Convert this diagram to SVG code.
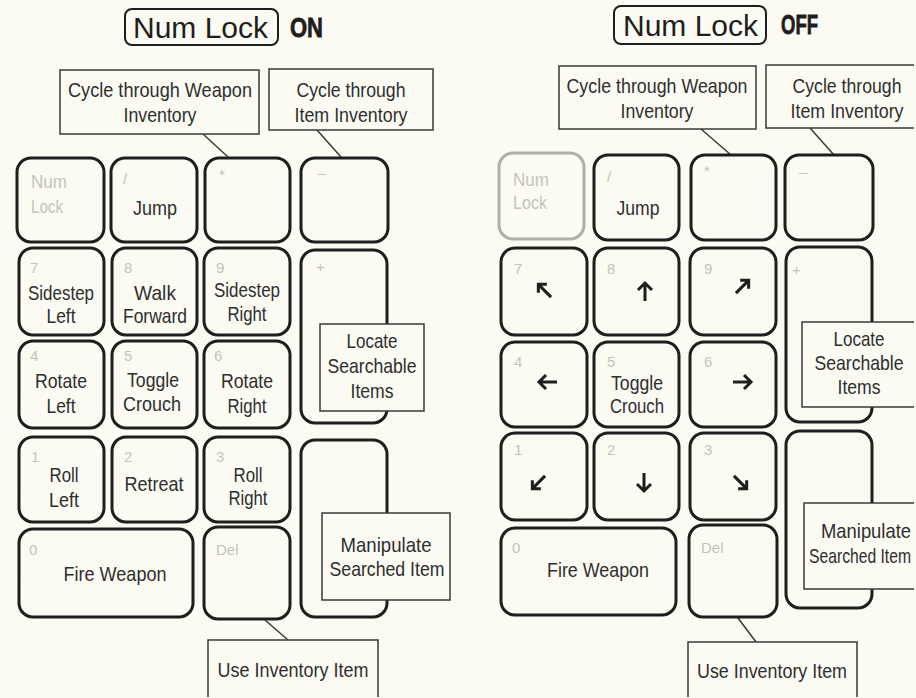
<svg xmlns="http://www.w3.org/2000/svg" width="916" height="698" viewBox="0 0 916 698">
<style>
.bg{fill:#fbfbf3}
.key{fill:#fbfbf3;stroke:#1e1e1e;stroke-width:3}
.keyg{fill:#fbfbf3;stroke:#b0b0a8;stroke-width:3}
.call{fill:#fbfbf3;stroke:#3a3a3a;stroke-width:1.5}
.ln{stroke:#3a3a3a;stroke-width:1.5;fill:none}
.t{font-family:"Liberation Sans",Arial,sans-serif;font-size:21px;fill:#2e2e2e;text-anchor:middle}
.d{font-family:"Liberation Sans",Arial,sans-serif;font-size:15px;fill:#c4c4ba}
.nl{font-family:"Liberation Sans",Arial,sans-serif;font-size:18px;fill:#c4c4ba}
.title{font-family:"Liberation Sans",Arial,sans-serif;font-size:30px;fill:#1e1e1e}
.big{font-family:"Liberation Sans",Arial,sans-serif;font-size:28px;font-weight:bold;fill:#1e1e1e;stroke:#1e1e1e;stroke-width:0.8}
.arr{fill:none;stroke:#1e1e1e;stroke-width:3;stroke-linecap:butt;stroke-linejoin:miter}
</style>
<defs>
<path id="a" class="arr" d="M0,10 V-8 M-7,-1 L0,-8 L7,-1"/>
<path id="ad" class="arr" d="M0,10 V-8 M-6,-2 L0,-8 L6,-2"/>
</defs>
<rect class="bg" x="0" y="0" width="916" height="698"/>

<!-- LEFT PANEL -->
<g id="title-on">
<rect x="125" y="9" width="153" height="36" rx="7" fill="none" stroke="#1e1e1e" stroke-width="2"/>
<text class="title" x="133" y="38">Num Lock</text>
<text class="big" x="290" y="37" textLength="33" lengthAdjust="spacingAndGlyphs">ON</text>
</g>

<g id="connectors-on">
<line class="ln" x1="203" y1="134" x2="228" y2="157"/>
<line class="ln" x1="317" y1="130" x2="341" y2="157"/>
<line class="ln" x1="265" y1="620" x2="288" y2="640"/>
</g>

<g id="key-numlock-on"><rect class="key" x="17" y="158" width="87" height="84" rx="14"/><text class="nl" x="31" y="188" textLength="36" lengthAdjust="spacingAndGlyphs">Num</text><text class="nl" x="31" y="213" textLength="32" lengthAdjust="spacingAndGlyphs">Lock</text></g>
<g id="key-slash-on"><rect class="key" x="111" y="158" width="86" height="84" rx="14"/><text class="d" x="123" y="184">/</text><text class="t" x="155" y="215" textLength="44" lengthAdjust="spacingAndGlyphs">Jump</text></g>
<g id="key-star-on"><rect class="key" x="205" y="158" width="85" height="84" rx="14"/><text class="d" x="219" y="180">*</text></g>
<g id="key-minus-on"><rect class="key" x="301" y="158" width="87" height="84" rx="14"/><text class="d" x="318" y="178">–</text></g>

<g id="key-7-on"><rect class="key" x="19" y="248" width="85" height="87" rx="14"/><text class="d" x="30" y="273">7</text><text class="t" x="61" y="300" textLength="66" lengthAdjust="spacingAndGlyphs">Sidestep</text><text class="t" x="61" y="323" textLength="29" lengthAdjust="spacingAndGlyphs">Left</text></g>
<g id="key-8-on"><rect class="key" x="112" y="248" width="85" height="87" rx="14"/><text class="d" x="124" y="273">8</text><text class="t" x="155" y="300" textLength="42" lengthAdjust="spacingAndGlyphs">Walk</text><text class="t" x="155" y="323" textLength="64" lengthAdjust="spacingAndGlyphs">Forward</text></g>
<g id="key-9-on"><rect class="key" x="204" y="248" width="86" height="87" rx="14"/><text class="d" x="216" y="273">9</text><text class="t" x="247" y="297" textLength="66" lengthAdjust="spacingAndGlyphs">Sidestep</text><text class="t" x="247" y="321" textLength="39" lengthAdjust="spacingAndGlyphs">Right</text></g>
<g id="key-plus-on"><rect class="key" x="301" y="250" width="86" height="173" rx="14"/><text class="d" x="316" y="272">+</text></g>

<g id="key-4-on"><rect class="key" x="19" y="341" width="85" height="87" rx="14"/><text class="d" x="30" y="361">4</text><text class="t" x="61" y="388" textLength="52" lengthAdjust="spacingAndGlyphs">Rotate</text><text class="t" x="61" y="413" textLength="29" lengthAdjust="spacingAndGlyphs">Left</text></g>
<g id="key-5-on"><rect class="key" x="112" y="341" width="85" height="87" rx="14"/><text class="d" x="124" y="361">5</text><text class="t" x="153" y="387" textLength="52" lengthAdjust="spacingAndGlyphs">Toggle</text><text class="t" x="152" y="411" textLength="58" lengthAdjust="spacingAndGlyphs">Crouch</text></g>
<g id="key-6-on"><rect class="key" x="204" y="341" width="86" height="87" rx="14"/><text class="d" x="214" y="361">6</text><text class="t" x="247" y="388" textLength="52" lengthAdjust="spacingAndGlyphs">Rotate</text><text class="t" x="247" y="413" textLength="39" lengthAdjust="spacingAndGlyphs">Right</text></g>

<g id="key-1-on"><rect class="key" x="19" y="437" width="85" height="85" rx="14"/><text class="d" x="31" y="462">1</text><text class="t" x="64" y="482" textLength="29" lengthAdjust="spacingAndGlyphs">Roll</text><text class="t" x="64" y="507" textLength="30" lengthAdjust="spacingAndGlyphs">Left</text></g>
<g id="key-2-on"><rect class="key" x="112" y="437" width="85" height="85" rx="14"/><text class="d" x="124" y="462">2</text><text class="t" x="154" y="491" textLength="59" lengthAdjust="spacingAndGlyphs">Retreat</text></g>
<g id="key-3-on"><rect class="key" x="204" y="437" width="86" height="85" rx="14"/><text class="d" x="216" y="462">3</text><text class="t" x="248" y="482" textLength="29" lengthAdjust="spacingAndGlyphs">Roll</text><text class="t" x="248" y="505" textLength="39" lengthAdjust="spacingAndGlyphs">Right</text></g>
<g id="key-enter-on"><rect class="key" x="301" y="440" width="86" height="177" rx="14"/></g>

<g id="key-0-on"><rect class="key" x="19" y="529" width="174" height="88" rx="14"/><text class="d" x="29" y="555">0</text><text class="t" x="115" y="581" textLength="103" lengthAdjust="spacingAndGlyphs">Fire Weapon</text></g>
<g id="key-del-on"><rect class="key" x="204" y="527" width="86" height="92" rx="14"/><text class="d" x="216" y="555">Del</text></g>

<g id="call-weapon-on"><rect class="call" x="60" y="70" width="199" height="64"/><text class="t" x="160" y="97" textLength="184" lengthAdjust="spacingAndGlyphs">Cycle through Weapon</text><text class="t" x="160" y="122" textLength="73" lengthAdjust="spacingAndGlyphs">Inventory</text></g>
<g id="call-item-on"><rect class="call" x="269" y="69" width="164" height="61"/><text class="t" x="351" y="97" textLength="109" lengthAdjust="spacingAndGlyphs">Cycle through</text><text class="t" x="351" y="122" textLength="113" lengthAdjust="spacingAndGlyphs">Item Inventory</text></g>
<g id="call-locate-on"><rect class="call" x="320" y="324" width="104" height="87"/><text class="t" x="372" y="348" textLength="51" lengthAdjust="spacingAndGlyphs">Locate</text><text class="t" x="372" y="373" textLength="89" lengthAdjust="spacingAndGlyphs">Searchable</text><text class="t" x="372" y="398" textLength="43" lengthAdjust="spacingAndGlyphs">Items</text></g>
<g id="call-manip-on"><rect class="call" x="322" y="513" width="128" height="87"/><text class="t" x="386" y="552" textLength="91" lengthAdjust="spacingAndGlyphs">Manipulate</text><text class="t" x="387" y="576" textLength="115" lengthAdjust="spacingAndGlyphs">Searched Item</text></g>
<g id="call-use-on"><path class="call" d="M208,697 V640 H378 V697"/><text class="t" x="293" y="677" textLength="151" lengthAdjust="spacingAndGlyphs">Use Inventory Item</text></g>

<!-- RIGHT PANEL -->
<g id="title-off">
<rect x="614" y="6" width="152" height="38" rx="7" fill="none" stroke="#1e1e1e" stroke-width="2"/>
<text class="title" x="623" y="36">Num Lock</text>
<text class="big" x="781" y="34" textLength="37" lengthAdjust="spacingAndGlyphs">OFF</text>
</g>

<g id="connectors-off">
<line class="ln" x1="701" y1="129" x2="731" y2="155"/>
<line class="ln" x1="810" y1="128" x2="834" y2="155"/>
<line class="ln" x1="738" y1="618" x2="756" y2="642"/>
</g>

<g id="key-numlock-off"><rect class="keyg" x="499" y="153" width="85" height="86" rx="14"/><text class="nl" x="513" y="186" textLength="36" lengthAdjust="spacingAndGlyphs">Num</text><text class="nl" x="513" y="209" textLength="34" lengthAdjust="spacingAndGlyphs">Lock</text></g>
<g id="key-slash-off"><rect class="key" x="594" y="155" width="85" height="85" rx="14"/><text class="d" x="607" y="182">/</text><text class="t" x="638" y="215" textLength="43" lengthAdjust="spacingAndGlyphs">Jump</text></g>
<g id="key-star-off"><rect class="key" x="691" y="155" width="85" height="85" rx="14"/><text class="d" x="704" y="176">*</text></g>
<g id="key-minus-off"><rect class="key" x="785" y="155" width="88" height="85" rx="14"/><text class="d" x="799" y="177">–</text></g>

<g id="key-7-off"><rect class="key" x="501" y="248" width="86" height="87" rx="14"/><text class="d" x="514" y="274">7</text><use href="#ad" transform="translate(544,290) rotate(-45)"/></g>
<g id="key-8-off"><rect class="key" x="594" y="248" width="85" height="87" rx="14"/><text class="d" x="607" y="274">8</text><use href="#a" transform="translate(645,291)"/></g>
<g id="key-9-off"><rect class="key" x="690" y="248" width="86" height="87" rx="14"/><text class="d" x="704" y="274">9</text><use href="#ad" transform="translate(743,286) rotate(45)"/></g>
<g id="key-plus-off"><rect class="key" x="786" y="247" width="86" height="175" rx="14"/><text class="d" x="792" y="275">+</text></g>

<g id="key-4-off"><rect class="key" x="501" y="342" width="86" height="85" rx="14"/><text class="d" x="514" y="367">4</text><use href="#a" transform="translate(547,382) rotate(-90)"/></g>
<g id="key-5-off"><rect class="key" x="594" y="342" width="85" height="85" rx="14"/><text class="d" x="607" y="367">5</text><text class="t" x="637" y="390" textLength="52" lengthAdjust="spacingAndGlyphs">Toggle</text><text class="t" x="637" y="413" textLength="54" lengthAdjust="spacingAndGlyphs">Crouch</text></g>
<g id="key-6-off"><rect class="key" x="690" y="342" width="86" height="85" rx="14"/><text class="d" x="704" y="367">6</text><use href="#a" transform="translate(743,382) rotate(90)"/></g>

<g id="key-1-off"><rect class="key" x="501" y="433" width="86" height="87" rx="14"/><text class="d" x="514" y="455">1</text><use href="#ad" transform="translate(538,483) rotate(-135)"/></g>
<g id="key-2-off"><rect class="key" x="594" y="433" width="85" height="87" rx="14"/><text class="d" x="607" y="455">2</text><use href="#a" transform="translate(644,483) rotate(180)"/></g>
<g id="key-3-off"><rect class="key" x="690" y="433" width="86" height="87" rx="14"/><text class="d" x="704" y="455">3</text><use href="#ad" transform="translate(741,483) rotate(135)"/></g>
<g id="key-enter-off"><rect class="key" x="786" y="431" width="86" height="177" rx="14"/></g>

<g id="key-0-off"><rect class="key" x="501" y="528" width="175" height="87" rx="14"/><text class="d" x="512" y="553">0</text><text class="t" x="598" y="577" textLength="102" lengthAdjust="spacingAndGlyphs">Fire Weapon</text></g>
<g id="key-del-off"><rect class="key" x="689" y="525" width="88" height="92" rx="14"/><text class="d" x="701" y="553">Del</text></g>

<g id="call-weapon-off"><rect class="call" x="559" y="66" width="197" height="63"/><text class="t" x="657" y="93" textLength="181" lengthAdjust="spacingAndGlyphs">Cycle through Weapon</text><text class="t" x="657" y="118" textLength="73" lengthAdjust="spacingAndGlyphs">Inventory</text></g>
<g id="call-item-off"><path class="call" d="M914,65 H766 V128 H914"/><text class="t" x="847" y="93" textLength="109" lengthAdjust="spacingAndGlyphs">Cycle through</text><text class="t" x="847" y="118" textLength="113" lengthAdjust="spacingAndGlyphs">Item Inventory</text></g>
<g id="call-locate-off"><path class="call" d="M914,322 H802 V407 H914"/><text class="t" x="859" y="346" textLength="51" lengthAdjust="spacingAndGlyphs">Locate</text><text class="t" x="859" y="370" textLength="89" lengthAdjust="spacingAndGlyphs">Searchable</text><text class="t" x="859" y="394" textLength="43" lengthAdjust="spacingAndGlyphs">Items</text></g>
<g id="call-manip-off"><path class="call" d="M914,503 H804 V589 H914"/><text class="t" x="866" y="538" textLength="90" lengthAdjust="spacingAndGlyphs">Manipulate</text><text class="t" x="860" y="563" textLength="102" lengthAdjust="spacingAndGlyphs">Searched Item</text></g>
<g id="call-use-off"><path class="call" d="M688,697 V642 H857 V697"/><text class="t" x="772" y="678" textLength="150" lengthAdjust="spacingAndGlyphs">Use Inventory Item</text></g>
</svg>
